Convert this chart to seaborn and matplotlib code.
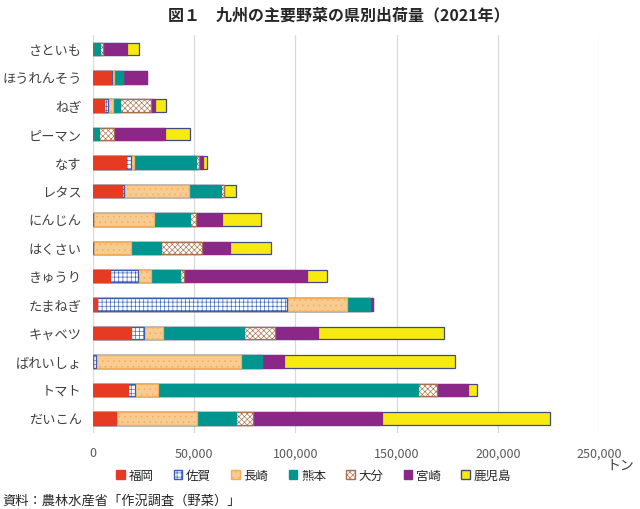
import numpy as np
import pandas as pd
import seaborn as sns
import matplotlib.pyplot as plt
from matplotlib.patches import Patch

yasai = ['さといも', 'ほうれんそう', 'ねぎ', 'ピーマン', 'なす', 'レタス', 'にんじん',
         'はくさい', 'きゅうり', 'たまねぎ', 'キャベツ', 'ばれいしょ', 'トマト', 'だいこん']
ken = ['福岡', '佐賀', '長崎', '熊本', '大分', '宮崎', '鹿児島']

# 出荷量 (トン), グラフから読み取り
fukuoka = [300, 8900, 5600, 0, 16200, 14200, 0, 0, 8600, 2000, 18900, 300, 17500, 11400]
saga = [0, 500, 1800, 0, 2800, 1300, 0, 0, 13900, 94000, 6300, 1200, 3200, 0]
nagasaki = [0, 1100, 2500, 0, 1200, 31800, 30100, 18700, 6100, 29400, 9700, 71500, 11600, 40000]
kumamoto = [3500, 4300, 3600, 3000, 30800, 15900, 17700, 14900, 14600, 11300, 39600, 10400, 128100, 19500]
oita = [1100, 0, 15000, 7300, 1300, 1800, 3000, 20500, 2000, 0, 15600, 0, 9500, 8100]
miyazaki = [11800, 12100, 2000, 25300, 2200, 0, 13200, 13700, 60400, 1800, 20900, 11000, 15400, 63700]
kagoshima = [6000, 0, 5800, 12400, 1800, 5600, 19000, 20400, 9900, 0, 62300, 84700, 4500, 83000]

sns.set_style('whitegrid')
plt.rcParams['font.family'] = ['Noto Sans CJK JP', 'DejaVu Sans']
plt.rcParams['hatch.linewidth'] = 0.45

dados = pd.DataFrame({'野菜': yasai, '福岡': fukuoka, '佐賀': saga, '長崎': nagasaki,
                      '熊本': kumamoto, '大分': oita, '宮崎': miyazaki, '鹿児島': kagoshima})
ruikei = dados[ken].cumsum(axis=1)

estilo = {
    '福岡': dict(color='#E63B22', edgecolor='#E63B22'),
    '佐賀': dict(color='white', edgecolor='#3A5DB5', hatch='++++'),
    '長崎': dict(color='#F8CB92', edgecolor='#F5AE55', hatch='...'),
    '熊本': dict(color='#00968F', edgecolor='#00968F'),
    '大分': dict(color='white', edgecolor='#A8704A', hatch='xxxxxx'),
    '宮崎': dict(color='#8A2787', edgecolor='#8A2787'),
    '鹿児島': dict(color='#F6EA10', edgecolor='#3F4A8A'),
}

fig, ax = plt.subplots(figsize=(6.4, 5.1), dpi=100)
fig.subplots_adjust(left=0.145, right=0.936, top=0.93, bottom=0.15)

# 累計を後ろの県から重ねて描く
for k in reversed(ken):
    sns.barplot(x=ruikei[k], y=dados['野菜'], orient='h', ax=ax, width=0.44,
                linewidth=0.9, saturation=1, **estilo[k])

ax.set_xlim(0, 250000)
ax.set_xticks(np.arange(0, 250001, 50000))
ax.xaxis.set_major_formatter(plt.FuncFormatter(lambda v, p: f'{int(v):,}'))
ax.grid(axis='y', visible=False)
ax.grid(axis='x', color='#D9D9D9', linewidth=0.9)
for s in ax.spines.values():
    s.set_visible(False)
ax.tick_params(axis='both', length=0)
ax.tick_params(axis='x', labelsize=9, labelcolor='#595959', pad=10)
ax.tick_params(axis='y', labelsize=9.5, labelcolor='#404040', pad=8)
ax.set_xlabel('')
ax.set_ylabel('')

fig.suptitle('図１　九州の主要野菜の県別出荷量（2021年）', x=0.53, y=0.985,
             fontsize=11.5, fontweight='bold')

handles = [Patch(facecolor=estilo[k]['color'], edgecolor=estilo[k]['edgecolor'],
                 hatch=estilo[k].get('hatch'), label=k) for k in ken]
fig.legend(handles=handles, loc='center', bbox_to_anchor=(0.49, 0.066), ncol=7,
           frameon=False, fontsize=9, handlelength=0.7, handleheight=0.7,
           handletextpad=0.3, columnspacing=1.6)

fig.text(0.948, 0.086, 'トン', fontsize=10, color='#404040', ha='left', va='center')
fig.text(0.003, 0.018, '資料：農林水産省「作況調査（野菜）」', fontsize=9.5, ha='left',
         va='center')

plt.savefig('out.png')
